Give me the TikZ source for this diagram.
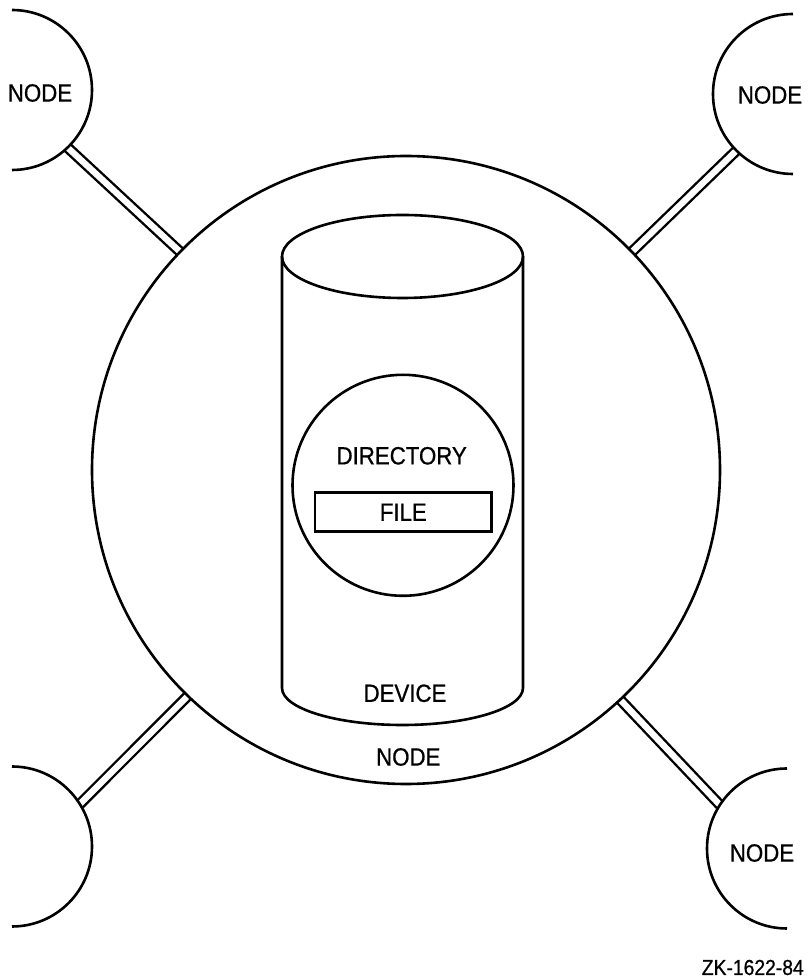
\documentclass[tikz,border=0pt]{standalone}
\usepackage{fontspec}
\newfontfamily\lab{Liberation Sans}[FakeStretch=0.89,FakeBold=0.7]
\begin{document}
\begin{tikzpicture}[x=1pt,y=1pt,
  ink/.style={line width=2.6pt, line join=round},
  hub/.style={circle, inner sep=0pt, outer sep=0pt},
  rail/.style={line width=2.4pt, double=white, double distance=6.3pt},
  lbl/.style={inner sep=0pt, font=\lab\fontsize{25}{30}\selectfont},
  tag/.style={inner sep=0pt, font=\lab\fontsize{21.7}{26}\selectfont},
  filebox/.style={draw, line width=2.4pt, rectangle, minimum width=176.7pt, minimum height=39pt, inner sep=0pt, font=\lab\fontsize{25}{30}\selectfont}]
\useasboundingbox (0,0) rectangle (807,978);
% invisible hubs
\node[hub, minimum size=628pt] (big) at (406,508) {};
\node[hub, minimum size=160pt] (tl) at (12,888) {};
\node[hub, minimum size=160pt] (tr) at (793,884) {};
\node[hub, minimum size=160pt] (bl) at (12,131.5) {};
\node[hub, minimum size=160pt] (br) at (787,129.5) {};
% rails
\draw[rail] (tl.-46.4) -- (big.136.9);
\draw[rail] (tr.-135.3) -- (big.44.1);
\draw[rail] (bl.32) -- (big.-134);
\draw[rail] (br.147.3) -- (big.-47.8);
% circles
\draw[ink] (big.center) circle[radius=314pt];
\draw[ink] (tl.north) arc[start angle=90, end angle=-90, radius=80pt];
\draw[ink] (tr.north) arc[start angle=90, end angle=270, radius=80pt];
\draw[ink] (bl.north) arc[start angle=90, end angle=-90, radius=80pt];
\draw[ink] (br.north) arc[start angle=90, end angle=270, radius=80pt];
% cylinder (device)
\draw[ink] (402.5,721.5) ellipse[x radius=120.5pt, y radius=41.5pt];
\draw[ink] (282,721.5) -- (282,290) arc[start angle=180, end angle=360, x radius=120.5pt, y radius=37pt] -- (523,721.5);
% directory
\node[hub, draw, ink, minimum size=221pt] (dir) at (403,492.7) {};
\node[lbl] (dirl) at (401.7,522.2) {DIRECTORY};
\node[filebox] (file) at (403.3,465.8) {FILE};
% labels
\node[lbl] (devl) at (405,284.7) {DEVICE};
\node[lbl] (bigl) at (408.3,221) {NODE};
\node[lbl] (tll) at (40,885) {NODE};
\node[lbl] (trl) at (770,883) {NODE};
\node[lbl] (brl) at (762,125) {NODE};
\node[tag, anchor=east] (zk) at (804,10.5) {ZK-1622-84};
\end{tikzpicture}
\end{document}
